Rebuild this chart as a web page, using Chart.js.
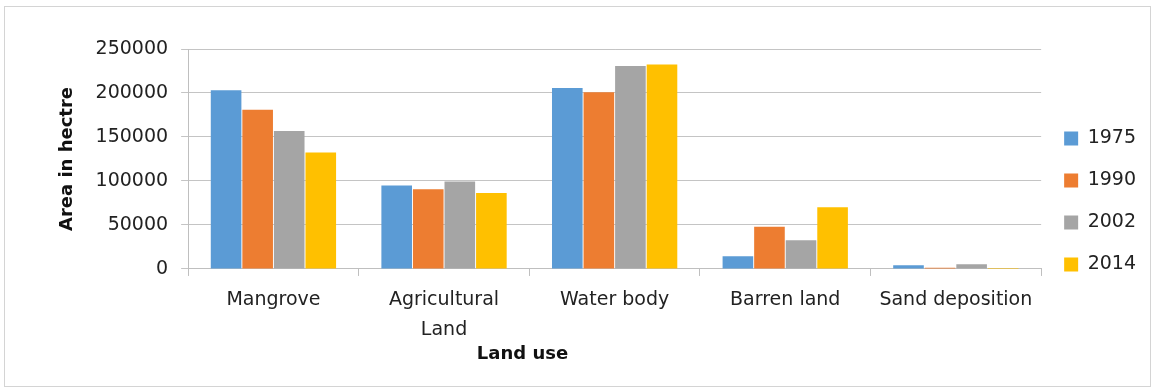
<!DOCTYPE html>
<html>
<head>
<meta charset="utf-8">
<script src="https://cdn.jsdelivr.net/npm/chart.js@4.4.1/dist/chart.umd.min.js"></script>
<style>
  body { margin: 0; background: #fff; }
  #frame {
    position: absolute; left: 4px; top: 6px;
    width: 1145px; height: 379px;
    border: 1px solid #d4d4d4;
  }
</style>
</head>
<body>
<div id="frame"><canvas id="landChart"></canvas></div>
<script>
// land use categories and area values (hectre)
const categories = ['Mangrove', 'Agricultural Land', 'Water body', 'Barren land', 'Sand deposition'];
const years = ['1975', '1990', '2002', '2014'];
const area1975 = [203000, 94800, 205800, 14500, 4200];
const area1990 = [181000, 90500, 200900, 48000, 1500];
const area2002 = [156700, 99300, 230600, 32700, 5400];
const area2014 = [132400, 86400, 232500, 70000, 1000];
const yTicks = [0, 50000, 100000, 150000, 200000, 250000];

const colors = ['#5b9bd5', '#ed7d31', '#a5a5a5', '#ffc000'];
const series = [area1975, area1990, area2002, area2014];

// draws the x axis title a bit left of centre, like the original
const xTitlePlugin = {
  id: 'xTitle',
  afterDraw(chart) {
    const x = chart.scales.x;
    const ctx = chart.ctx;
    ctx.save();
    ctx.font = 'bold 18px "DejaVu Sans"';
    ctx.fillStyle = '#111';
    ctx.textAlign = 'center';
    ctx.textBaseline = 'middle';
    ctx.fillText('Land use', x.left + (x.right - x.left) * 0.392, x.bottom);
    ctx.restore();
  }
};

const ctx = document.getElementById('landChart').getContext('2d');
new Chart(ctx, {
  type: 'bar',
  data: {
    labels: categories.map(c => c === 'Agricultural Land' ? ['Agricultural', 'Land'] : c),
    datasets: years.map((y, i) => ({
      label: y,
      data: series[i],
      backgroundColor: colors[i],
      borderWidth: 0,
      categoryPercentage: 0.74,
      barPercentage: 0.97
    }))
  },
  options: {
    responsive: true,
    maintainAspectRatio: false,
    animation: false,
    layout: { padding: { top: 42, right: 4, left: 52, bottom: 32 } },
    plugins: {
      tooltip: { enabled: false },
      legend: {
        position: 'right',
        labels: {
          font: { family: 'DejaVu Sans', size: 19 },
          color: '#222',
          boxWidth: 14,
          boxHeight: 14,
          padding: 23
        }
      }
    },
    scales: {
      x: {
        grid: { drawOnChartArea: false, drawTicks: true, tickLength: 7, color: '#bfbfbf' },
        border: { color: '#bfbfbf' },
        ticks: {
          font: { family: 'DejaVu Sans', size: 19, lineHeight: 1.58 },
          color: '#222',
          maxRotation: 0,
          autoSkip: false,
          padding: 9
        }
      },
      y: {
        min: 0,
        max: 250000,
        afterBuildTicks(scale) {
          scale.ticks = yTicks.map(v => ({ value: v }));
        },
        grid: { color: '#c4c4c4', drawTicks: true, tickLength: 7 },
        border: { color: '#bfbfbf' },
        ticks: {
          font: { family: 'DejaVu Sans', size: 19 },
          color: '#222',
          padding: 13,
          callback: v => String(v)
        },
        title: {
          display: true,
          text: 'Area in hectre',
          color: '#111',
          font: { family: 'DejaVu Sans', size: 18, weight: 'bold' },
          padding: { top: 0, bottom: 4 }
        }
      }
    }
  },
  plugins: [xTitlePlugin]
});
</script>
</body>
</html>
